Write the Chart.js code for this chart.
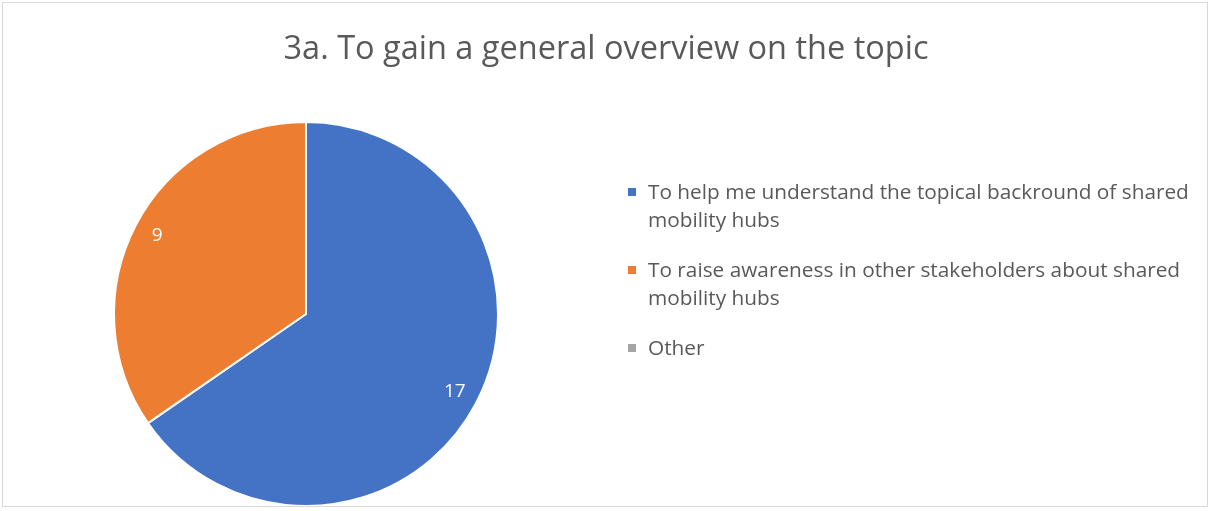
<!DOCTYPE html>
<html>
<head>
<meta charset="utf-8">
<script src="https://cdn.jsdelivr.net/npm/chart.js@4.4.1/dist/chart.umd.min.js"></script>
<style>
  html, body { margin: 0; padding: 0; background: #fff; }
  #wrap { position: relative; width: 1212px; height: 511px; overflow: hidden; font-family: "Open Sans", Lato, sans-serif; }
  #frame { position: absolute; left: 2px; top: 2px; width: 1206px; height: 505px; border: 1px solid #D9D9D9; box-sizing: border-box; pointer-events: none; }
  #cv { position: absolute; left: 0; top: 0; }
  #title { position: absolute; left: 0; width: 1212px; top: 26px; text-align: center; font-size: 32.5px; color: #595959; line-height: 42px; }
  #legend { position: absolute; left: 628px; top: 177px; color: #595959; font-size: 20.8px; line-height: 28px; }
  .item { position: relative; padding-left: 20px; width: 575px; margin-bottom: 22px; }
  .box { position: absolute; left: 0; top: 11px; width: 8px; height: 8px; }
</style>
</head>
<body>
<div id="wrap">
  <canvas id="cv" width="1212" height="511"></canvas>
  <div id="title"></div>
  <div id="legend"></div>
  <div id="frame"></div>
</div>
<script>
const chartTitle = "3a. To gain a general overview on the topic";
const categories = [
  "To help me understand the topical backround of shared mobility hubs",
  "To raise awareness in other stakeholders about shared mobility hubs",
  "Other"
];
const values = [17, 9, 0];
const colors = ["#4472C4", "#ED7D31", "#A5A5A5"];

document.getElementById('title').textContent = chartTitle;
const leg = document.getElementById('legend');
categories.forEach((c, i) => {
  const d = document.createElement('div');
  d.className = 'item';
  const b = document.createElement('span');
  b.className = 'box';
  b.style.background = colors[i];
  d.appendChild(b);
  d.appendChild(document.createTextNode(c));
  leg.appendChild(d);
});

const labelPlugin = {
  id: 'sliceLabels',
  afterDatasetsDraw(chart) {
    const ctx = chart.ctx;
    const meta = chart.getDatasetMeta(0);
    ctx.save();
    ctx.fillStyle = '#FFFFFF';
    ctx.font = '19px "Open Sans", Lato, sans-serif';
    ctx.textAlign = 'center';
    ctx.textBaseline = 'middle';
    meta.data.forEach((arc, i) => {
      const v = chart.data.datasets[0].data[i];
      if (!v) return;
      const p = arc.getProps(['x', 'y', 'startAngle', 'endAngle', 'outerRadius'], true);
      const mid = (p.startAngle + p.endAngle) / 2;
      const r = p.outerRadius * 0.875;
      ctx.fillText(String(v), p.x + Math.cos(mid) * r, p.y + Math.sin(mid) * r);
    });
    ctx.restore();
  }
};

new Chart(document.getElementById('cv'), {
  type: 'pie',
  data: {
    labels: categories,
    datasets: [{
      data: values,
      backgroundColor: colors,
      borderColor: '#FFFFFF',
      borderWidth: 2
    }]
  },
  options: {
    responsive: false,
    animation: false,
    layout: { padding: { left: 113, right: 713, top: 121, bottom: 4 } },
    plugins: {
      legend: { display: false },
      title: { display: false },
      tooltip: { enabled: false }
    }
  },
  plugins: [labelPlugin]
});
</script>
</body>
</html>
